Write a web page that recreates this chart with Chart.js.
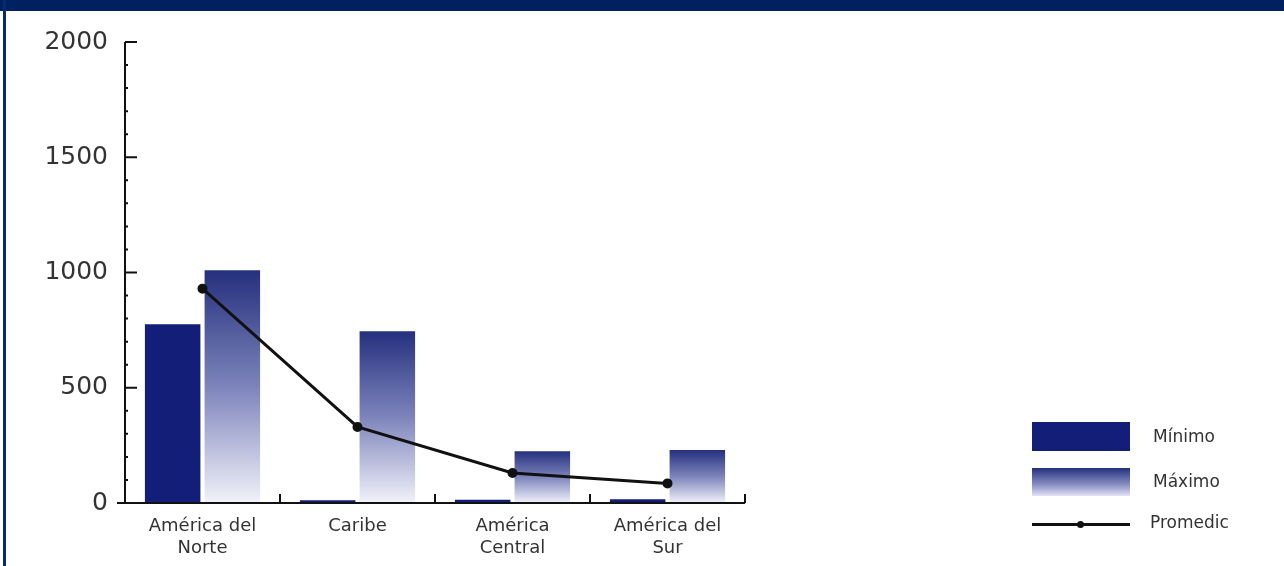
<!DOCTYPE html>
<html>
<head>
<meta charset="utf-8">
<script src="https://cdn.jsdelivr.net/npm/chart.js@4"></script>
<style>
  body { margin:0; background:#fff; }
  #wrap { position:relative; width:1284px; height:566px; overflow:hidden; background:#fff; }
  #topbar { position:absolute; left:0; top:0; width:1284px; height:11px; background:#002060; }
  #leftbar { position:absolute; left:3px; top:0; width:3px; height:566px; background:#0a2a6e; }
  canvas { position:absolute; left:0; top:0; }
  .lg { position:absolute; font-family:"DejaVu Sans", sans-serif; font-size:17px; color:#333; }
  .box { position:absolute; left:1032px; width:98px; }
</style>
</head>
<body>
<div id="wrap">
  <div id="topbar"></div>
  <div id="leftbar"></div>
  <canvas id="c" width="1284" height="566"></canvas>
  <div id="legend"></div>
</div>
<script>
const categories = [["América del","Norte"], "Caribe", ["América","Central"], ["América del","Sur"]];
const seriesNames = ["Mínimo", "Máximo", "Promedic"];
const minimo = [775, 12, 14, 16];
const maximo = [1010, 745, 225, 230];
const promedio = [930, 330, 130, 85];
const yTicks = [0, 500, 1000, 1500, 2000];

const navy = "#121e78";

function barGradient(ctx) {
    const chart = ctx.chart;
    const y = chart.scales.y;
    if (!chart.chartArea || !y) return "#2a3580";
    const top = y.getPixelForValue(ctx.raw);
    const base = y.getPixelForValue(0);
    const g = chart.ctx.createLinearGradient(0, top, 0, base);
    g.addColorStop(0, "#25307e");
    g.addColorStop(0.5, "#7d84bb");
    g.addColorStop(1, "#f2f2fa");
    return g;
}

// axis lines and inner tick marks, placed by the scales
const axisPlugin = {
    id: "axes",
    afterDatasetsDraw(chart) {
        const {ctx, scales:{x, y}, chartArea:a} = chart;
        ctx.save();
        ctx.strokeStyle = "#111";
        ctx.lineWidth = 2;
        ctx.beginPath();
        ctx.moveTo(a.left, y.getPixelForValue(2000));
        ctx.lineTo(a.left, a.bottom);
        ctx.moveTo(a.left - 8, a.bottom);
        ctx.lineTo(a.right, a.bottom);
        ctx.stroke();
        ctx.beginPath();
        for (let v = 0; v <= 2000; v += 100) {
            const py = y.getPixelForValue(v);
            const len = v % 500 === 0 ? 12 : 3;
            ctx.moveTo(a.left, py);
            ctx.lineTo(a.left + len, py);
        }
        for (let i = 1; i <= categories.length; i++) {
            const px = i < categories.length ? (x.getPixelForValue(i - 1) + x.getPixelForValue(i)) / 2 : a.right;
            ctx.moveTo(px, a.bottom);
            ctx.lineTo(px, a.bottom - 9);
        }
        ctx.stroke();
        ctx.restore();
    }
};

new Chart(document.getElementById("c"), {
    type: "bar",
    data: {
        labels: categories,
        datasets: [
            {label: seriesNames[0], data: minimo, backgroundColor: navy, order: 1,
             categoryPercentage: 0.77, barPercentage: 0.93},
            {label: seriesNames[1], data: maximo, backgroundColor: barGradient, order: 1,
             categoryPercentage: 0.77, barPercentage: 0.93},
            {label: seriesNames[2], data: promedio, type: "line", order: 0,
             borderColor: "#111", borderWidth: 3, pointRadius: 3.5, pointBackgroundColor: "#111",
             pointBorderColor: "#111", tension: 0}
        ]
    },
    options: {
        responsive: false,
        animation: false,
        layout: {padding: {left: 0, top: 42, right: 539, bottom: 0}},
        plugins: {legend: {display: false}, tooltip: {enabled: false}},
        scales: {
            x: {
                grid: {display: false},
                border: {display: false},
                ticks: {color: "#333", font: {family: "DejaVu Sans", size: 18, lineHeight: 1.25}, padding: 4, maxRotation: 0},
                afterFit: s => { s.height = 63; }
            },
            y: {
                min: 0, max: 2000,
                afterBuildTicks: s => { s.ticks = yTicks.map(v => ({value: v})); },
                grid: {display: false},
                border: {display: false},
                ticks: {color: "#333", font: {family: "DejaVu Sans", size: 25}, padding: 9,
                        callback: v => String(v)},
                afterFit: s => { s.width = 125; }
            }
        }
    },
    plugins: [axisPlugin]
});

// legend on the right
const legend = document.getElementById("legend");
const rows = [
    {top: 422, h: 29, bg: navy},
    {top: 468, h: 28, bg: "linear-gradient(#25307e, #8a90c4 60%, #e4e4f4)"},
    {top: 524, line: true}
];
rows.forEach((r, i) => {
    if (r.line) {
        legend.insertAdjacentHTML("beforeend",
            `<div class="box" style="top:${r.top - 1}px;height:3px;background:#111"></div>
             <div style="position:absolute;left:1077px;top:${r.top - 3}px;width:7px;height:7px;border-radius:50%;background:#111"></div>`);
        legend.insertAdjacentHTML("beforeend",
            `<div class="lg" style="left:1150px;top:${r.top - 12}px">${seriesNames[i]}</div>`);
    } else {
        legend.insertAdjacentHTML("beforeend",
            `<div class="box" style="top:${r.top}px;height:${r.h}px;background:${r.bg}"></div>`);
        legend.insertAdjacentHTML("beforeend",
            `<div class="lg" style="left:1153px;top:${r.top + r.h / 2 - 11}px">${seriesNames[i]}</div>`);
    }
});
</script>
</body>
</html>
